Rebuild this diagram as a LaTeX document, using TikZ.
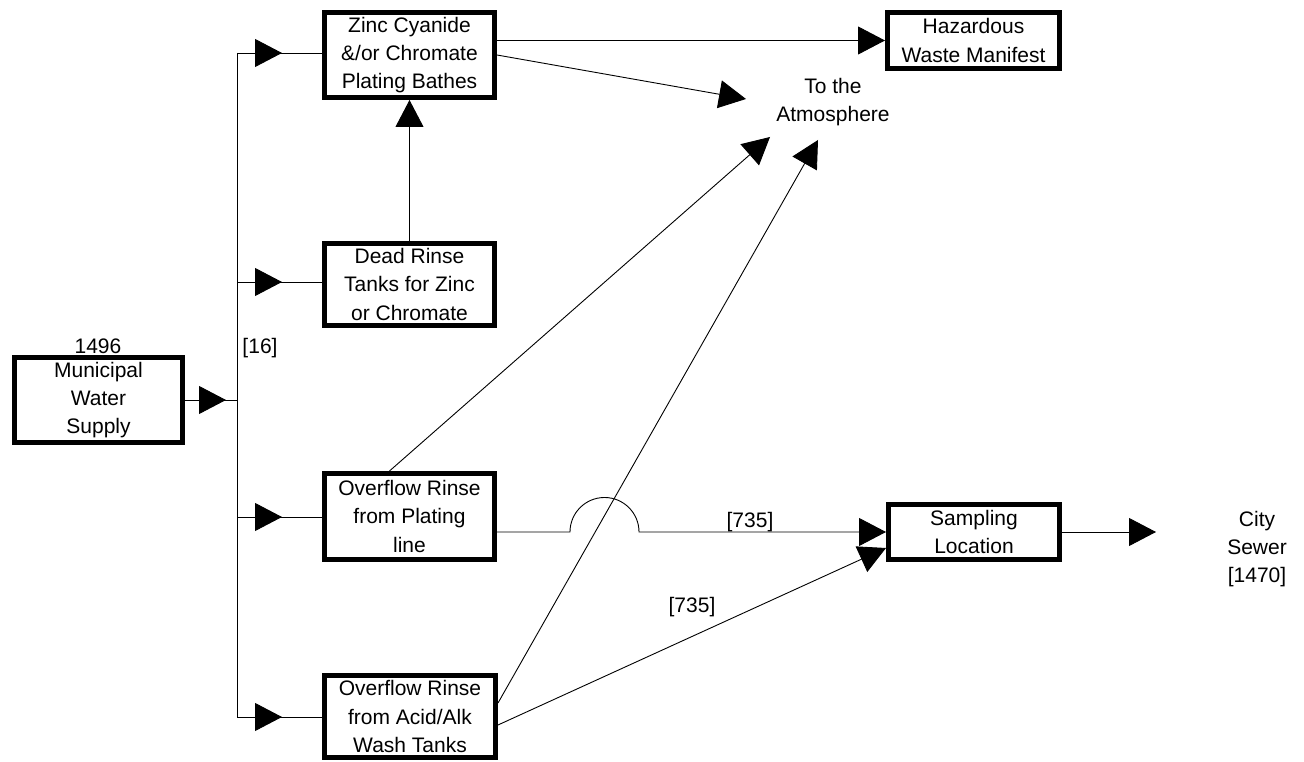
\documentclass[tikz,border=0pt]{standalone}
\usepackage{fontspec}
\setmainfont{Liberation Sans}
\usetikzlibrary{arrows.meta,decorations.markings}
\begin{document}
\begin{tikzpicture}[x=1pt,y=1pt,
 box/.style={draw, line width=5pt, align=center, inner sep=0pt, font=\fontsize{21}{28.3}\selectfont, execute at begin node={\rule{0pt}{23pt}}},
 lbl/.style={align=center, inner sep=0pt, font=\fontsize{21}{28.3}\selectfont},
 flow/.style={line width=0.9pt, -{Triangle[length=27pt,width=28pt]}},
 conn/.style={line width=0.9pt},
 midarrow/.style={line width=0.9pt, postaction={decorate}, decoration={markings, mark=at position #1 with {\arrow{Triangle[length=27pt,width=28pt]}}}},
]
\useasboundingbox (0,0) rectangle (1304,762);

\node[box, minimum width=168pt, minimum height=85pt] (mun) at (98.5,362) {Municipal\\Water\\Supply};
\node[lbl] (n1496) at (98,416) {1496};
\node[box, minimum width=170pt, minimum height=85pt] (zinc) at (409.5,707) {Zinc Cyanide\\\&/or Chromate\\Plating Bathes};
\node[box, minimum width=170pt, minimum height=82pt] (dead) at (409.5,477.5) {Dead Rinse\\Tanks for Zinc\\or Chromate};
\node[box, minimum width=170pt, minimum height=86pt] (ovp) at (409.5,245.5) {Overflow Rinse\\from Plating\\line};
\node[box, minimum width=171pt, minimum height=82pt] (ova) at (410,45.5) {Overflow Rinse\\from Acid/Alk\\Wash Tanks};
\node[box, minimum width=172pt, minimum height=56pt] (hwm) at (973.5,721.5) {Hazardous\\Waste Manifest};
\node[box, minimum width=171pt, minimum height=55pt] (samp) at (974,230) {Sampling\\Location};
\node[lbl] (atm) at (833,660) {To the\\Atmosphere};
\node[lbl] (city) at (1257,213) {City\\Sewer\\{[1470]}};
\node[lbl] (l16) at (260,414) {[16]};
\node[lbl] (l735a) at (750,240) {[735]};
\node[lbl] (l735b) at (692,155) {[735]};

\coordinate (tm) at (237,362);
\coordinate (t1) at (237,709);
\coordinate (t2) at (237,480);
\coordinate (t3) at (237,245);
\coordinate (t4) at (237,45);
\coordinate (a1) at (746,663);
\coordinate (a2) at (770,625);
\coordinate (a3) at (818,622);
\coordinate (cs) at (1156,230);
\coordinate (h1) at (570,230);

\draw[conn] (t1) -- (t4);
\draw[midarrow=41pt] (mun.east) -- (tm);
\draw[midarrow=45pt] (t1) -- (t1 -| zinc.west);
\draw[midarrow=45pt] (t2) -- (t2 -| dead.west);
\draw[midarrow=45pt] (t3) -- (t3 -| ovp.west);
\draw[midarrow=45pt] (t4) -- (t4 -| ova.west);

\draw[flow] (dead.north) -- (zinc.south);
\draw[flow] (zinc.east |- hwm.west) -- (hwm.west);
\draw[flow] (zinc.east) -- (a1);
\draw[flow] ([xshift=-20pt]ovp.north) -- (a2);
\draw[flow] ([yshift=13.5pt]ova.east) -- (a3);
\draw[flow] ([yshift=-8.5pt]ova.east) -- ([yshift=-16pt]samp.west);
\draw[flow] (ovp.east |- samp.west) -- (h1) arc[start angle=180, end angle=0, radius=34.5] -- (samp.west);
\draw[flow] (samp.east) -- (cs);
\end{tikzpicture}
\end{document}
